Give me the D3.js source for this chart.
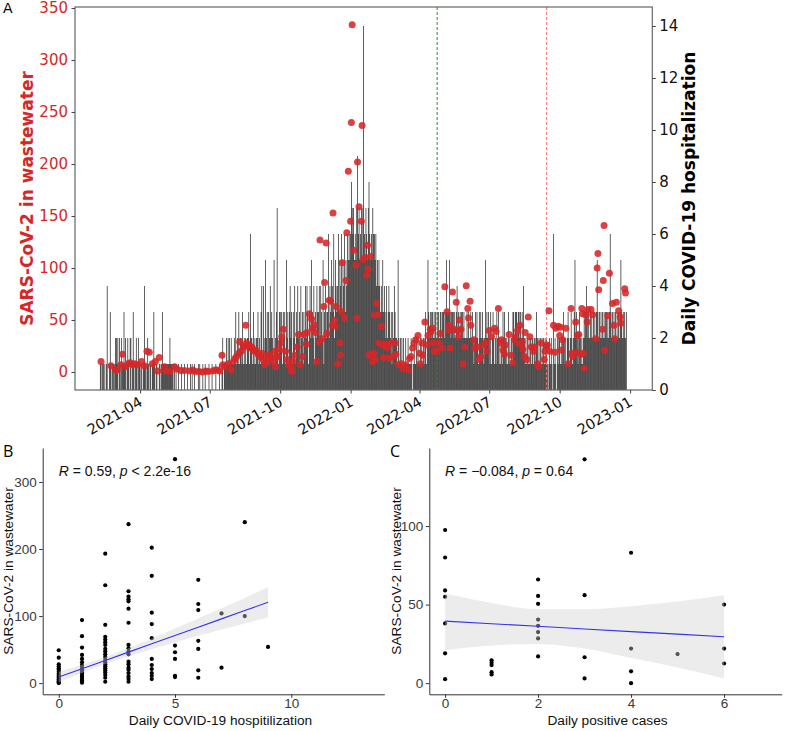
<!DOCTYPE html>
<html>
<head>
<meta charset="utf-8">
<script src="https://cdn.jsdelivr.net/npm/d3@7"></script>
<style>
  body { margin: 0; background: #fff; }
  svg { display: block; }
</style>
</head>
<body>
<svg id="chart" width="789" height="731"></svg>
<script>
// ---- Panel A data: daily hospitalizations, one character per day (hex digit)
const hospMonths = ["2021-02","2021-03","2021-04","2021-05","2021-06","2021-07","2021-08","2021-09",
  "2021-10","2021-11","2021-12","2022-01","2022-02","2022-03","2022-04","2022-05","2022-06",
  "2022-07","2022-08","2022-09","2022-10","2022-11","2022-12"];
const hospDigits = [
  "0000000110110101400131011012",
  "2120210211312012102201310121021",
  "101011410121011011310110011013",
  "1111111112111101010010001000100",
  "010001010010000101000100100001",
  "0001000010000100120111212121211",
  "1213121312213121212231622131212",
  "231213414125231324232151237213",
  "3231323152313423132413242314231",
  "324243134253241324334243251342",
  "3362435436254346354635463546565",
  "68767565796756757e6576578656576",
  "6564545434353432423432313243",
  "2215212121211211211121012112121",
  "121212123125323233232323232332",
  "3332353335323332323423232332322",
  "232322323212323213232321252323",
  "2131232121323121213232121312121",
  "3323332332323242121212121221212",
  "321212121212121012121061210212",
  "2121232121232123212352321232121",
  "232343232323232323532323232323",
  "3232363232323232323532323230000"
];

// SARS-CoV-2 in wastewater samples [date, value]
const wastewater = [
  ["2021-02-09",10],["2021-02-22",6],["2021-02-28",2],["2021-03-02",2],["2021-03-07",7],["2021-03-09",17],
  ["2021-03-12",5],["2021-03-16",8],["2021-03-19",9],["2021-03-22",7],["2021-03-25",8],["2021-03-29",7],
  ["2021-04-03",10],["2021-04-07",6],["2021-04-10",20],["2021-04-13",19],["2021-04-17",8],["2021-04-21",10],
  ["2021-04-24",1],["2021-04-26",14],["2021-05-03",5],["2021-05-05",1],["2021-05-10",0.5],["2021-05-16",5],
  ["2021-05-19",3],["2021-05-24",1.5],["2021-05-29",1.5],["2021-06-05",1],["2021-06-09",2],["2021-06-12",0.5],
  ["2021-06-17",0.5],["2021-06-22",0],["2021-06-26",1],["2021-06-29",0.5],["2021-07-05",1],["2021-07-08",2],
  ["2021-07-11",2],["2021-07-14",1],["2021-07-17",16],["2021-07-18",7],["2021-07-21",5],["2021-07-25",8],
  ["2021-07-29",2],["2021-08-01",10],["2021-08-03",13],["2021-08-05",15],["2021-08-08",18],["2021-08-09",29],
  ["2021-08-11",20],["2021-08-14",24],["2021-08-15",25],["2021-08-17",45],["2021-08-18",28],["2021-08-20",26],
  ["2021-08-22",23],["2021-08-24",24],["2021-08-25",24],["2021-08-27",21],["2021-08-29",20],["2021-08-30",21],
  ["2021-09-02",17],["2021-09-05",15],["2021-09-07",18],["2021-09-09",12],["2021-09-11",7],["2021-09-13",9],
  ["2021-09-15",16],["2021-09-17",16],["2021-09-19",13],["2021-09-22",10],["2021-09-24",20],["2021-09-25",5],
  ["2021-09-26",15],["2021-09-28",15],["2021-09-30",22],["2021-10-02",28],["2021-10-03",34],["2021-10-05",41],
  ["2021-10-08",20],["2021-10-10",12],["2021-10-12",7],["2021-10-15",4],["2021-10-16",0.5],["2021-10-18",10],
  ["2021-10-20",16],["2021-10-23",24],["2021-10-25",36],["2021-10-27",7],["2021-10-30",15],["2021-11-01",36],
  ["2021-11-04",27],["2021-11-05",38],["2021-11-08",56],["2021-11-11",51],["2021-11-12",42],["2021-11-15",45],
  ["2021-11-16",38],["2021-11-18",10],["2021-11-21",29],["2021-11-22",127],["2021-11-25",32],["2021-11-27",63],
  ["2021-11-28",86],["2021-11-30",124],["2021-12-01",37],["2021-12-04",69],["2021-12-06",68],["2021-12-08",45],
  ["2021-12-09",153],["2021-12-11",50],["2021-12-12",44],["2021-12-13",63],["2021-12-15",8],["2021-12-18",28],
  ["2021-12-19",16],["2021-12-20",58],["2021-12-21",105],["2021-12-24",52],["2021-12-26",88],["2021-12-27",134],
  ["2021-12-29",193],["2022-01-01",145],["2022-01-02",240],["2022-01-03",334],["2022-01-05",117],["2022-01-08",103],
  ["2022-01-09",52],["2022-01-10",202],["2022-01-12",159],["2022-01-15",145],["2022-01-16",237],["2022-01-17",108],
  ["2022-01-20",110],["2022-01-22",93],["2022-01-23",122],["2022-01-24",99],["2022-01-25",16],["2022-01-26",17],
  ["2022-01-27",111],["2022-01-30",10],["2022-01-31",18],["2022-02-01",55],["2022-02-02",12],["2022-02-04",66],
  ["2022-02-06",55],["2022-02-07",28],["2022-02-10",44],["2022-02-12",26],["2022-02-13",14],["2022-02-15",27],
  ["2022-02-16",26],["2022-02-18",23],["2022-02-21",13],["2022-02-23",28],["2022-02-25",15],["2022-02-28",28],
  ["2022-03-01",17],["2022-03-04",7],["2022-03-08",8],["2022-03-10",3.5],["2022-03-14",7],["2022-03-17",2],
  ["2022-03-19",13],["2022-03-21",15],["2022-03-23",23],["2022-03-25",28],["2022-03-27",31],["2022-03-30",35],
  ["2022-04-01",18],["2022-04-02",8],["2022-04-04",28],["2022-04-05",16],["2022-04-08",48],["2022-04-11",26],
  ["2022-04-12",35],["2022-04-15",41],["2022-04-16",39],["2022-04-18",42],["2022-04-19",28],["2022-04-20",20],
  ["2022-04-23",20],["2022-04-26",28],["2022-04-28",37],["2022-04-30",23],["2022-05-04",82],["2022-05-07",58],
  ["2022-05-09",45],["2022-05-10",40],["2022-05-11",23],["2022-05-14",77],["2022-05-16",41],["2022-05-19",67],
  ["2022-05-21",40],["2022-05-22",34],["2022-05-23",50],["2022-05-25",41],["2022-05-28",8],["2022-05-30",24],
  ["2022-06-01",83],["2022-06-03",61],["2022-06-04",52],["2022-06-06",68],["2022-06-07",45],["2022-06-11",31],
  ["2022-06-12",23],["2022-06-16",24],["2022-06-18",12],["2022-06-20",15],["2022-06-24",26],["2022-06-27",28],
  ["2022-06-28",20],["2022-07-01",40],["2022-07-04",34],["2022-07-08",42],["2022-07-10",39],["2022-07-13",61],
  ["2022-07-16",28],["2022-07-17",31],["2022-07-19",21],["2022-07-21",17],["2022-07-22",26],["2022-07-27",36],
  ["2022-07-30",16],["2022-08-01",9],["2022-08-03",31],["2022-08-04",34],["2022-08-07",40],["2022-08-09",27],
  ["2022-08-10",45],["2022-08-13",29],["2022-08-14",22],["2022-08-16",15],["2022-08-17",38],["2022-08-19",12],
  ["2022-08-21",53],["2022-08-23",34],["2022-08-25",24],["2022-08-28",20],["2022-08-29",24],["2022-09-02",8],
  ["2022-09-04",5],["2022-09-07",28],["2022-09-11",12],["2022-09-12",20],["2022-09-14",25],["2022-09-15",26],
  ["2022-09-17",59],["2022-09-18",20],["2022-09-23",45],["2022-09-25",19],["2022-09-26",42],["2022-09-29",44],
  ["2022-10-01",35],["2022-10-02",43],["2022-10-03",21],["2022-10-05",31],["2022-10-09",42],["2022-10-12",8],
  ["2022-10-16",61],["2022-10-17",18],["2022-10-18",15],["2022-10-22",48],["2022-10-23",19],["2022-10-24",35],
  ["2022-10-26",36],["2022-10-29",17],["2022-10-30",61],["2022-10-31",56],["2022-11-01",18],["2022-11-02",3.5],
  ["2022-11-04",55],["2022-11-06",48],["2022-11-07",60],["2022-11-11",60],["2022-11-13",55],["2022-11-17",32],
  ["2022-11-19",100],["2022-11-20",114],["2022-11-21",79],["2022-11-26",41],["2022-11-27",88],["2022-11-28",141],
  ["2022-11-29",21],["2022-12-03",54],["2022-12-05",95],["2022-12-09",66],["2022-12-11",45],["2022-12-12",32],
  ["2022-12-14",67],["2022-12-17",59],["2022-12-19",53],["2022-12-20",47],["2022-12-25",80],["2022-12-26",76]
];

const monthTicks = ["2021-04-01","2021-07-01","2021-10-01","2022-01-01","2022-04-01","2022-07-01","2022-10-01","2023-01-01"];
const leftTicks = [0, 50, 100, 150, 200, 250, 300, 350];
const rightTicks = [0, 2, 4, 6, 8, 10, 12, 14];
const greenLineDate = "2022-04-24";
const redLineDate = "2022-09-14";

// ---- Panel B: wastewater vs hospitalization
const bHosp = [0, 1, 2, 3, 4, 5, 6, 7, 8, 9];
const bWaste = [
  [49, 38, 28, 25, 22, 20, 17, 14, 12, 10, 8, 6, 5, 3, 2, 1, 0],
  [94, 70, 53, 42, 36, 31, 27, 24, 21, 19, 16, 14, 11, 9, 6, 4, 2, 0.5],
  [193, 146, 87, 69, 65, 61, 57, 51, 47, 43, 39, 35, 31, 28, 25, 22, 19, 16, 12, 8, 2],
  [237, 137, 129, 125, 122, 111, 90, 57, 52, 47, 43, 32, 28, 23, 20, 15, 10, 6, 2],
  [202, 160, 105, 88, 67, 36, 27, 21, 15, 11, 6],
  [334, 56, 46, 36, 11, 9],
  [154, 118, 109, 63, 51, 19, 8],
  [104, 23],
  [240, 100],
  [54]
];
const bFitX = [0, 1, 2, 3, 4, 5, 6, 7, 8, 9];
const bFit = [9, 21.4, 33.8, 46.2, 58.6, 71, 83.4, 95.8, 108.2, 120.6];
const bLow = [1, 15, 28.5, 40, 50.5, 60.5, 70.5, 80, 89, 98];
const bHigh = [17, 27.5, 39, 52, 66.5, 81.5, 96.5, 111.5, 127, 143];

// ---- Panel C: wastewater vs positive cases
const cCases = [0, 1, 2, 3, 4, 5, 6];
const cWaste = [
  [97.5, 80, 59, 55, 38, 19, 2.5],
  [14.5, 13, 11.5, 7, 5.5],
  [66, 55.5, 50.5, 40.5, 36.5, 32.5, 28.5, 17],
  [142.5, 56, 16.5, 3],
  [83, 22, 7.5, 0],
  [18.5],
  [50, 22, 12.5]
];
const cFitX = [0, 1, 2, 3, 4, 5, 6];
const cFit = [39.5, 37.8, 36.2, 34.5, 32.8, 31.2, 29.5];
const cLow = [21, 24, 25, 22, 16, 10, 3];
const cHigh = [57, 51, 47, 47, 49, 52, 56];

const svg = d3.select("#chart");
const parse = d3.utcParse("%Y-%m-%d");
const RED = "#d62728";
const fontA = "DejaVu Sans, sans-serif";
const fontB = "Liberation Sans, Arial, sans-serif";

// ================= Panel A =================
const xA = d3.scaleUtc().domain([parse("2021-01-06"), parse("2023-01-30")]).range([75, 652.3]);
const yL = d3.scaleLinear().domain([-17.3, 351]).range([390, 7]);
const yR = d3.scaleLinear().domain([0, 14.73]).range([390, 7]);

const daily = [];
hospMonths.forEach((m, i) => {
  const start = parse(m + "-01");
  hospDigits[i].split("").forEach((c, j) => {
    const v = parseInt(c, 16);
    if (v > 0) daily.push({ date: d3.utcDay.offset(start, j), value: v });
  });
});

const gA = svg.append("g");

gA.selectAll("rect.bar")
  .data(daily)
  .join("rect")
  .attr("class", "bar")
  .attr("x", d => xA(d.date) - 0.31)
  .attr("width", 0.62)
  .attr("y", d => yR(d.value))
  .attr("height", d => yR(0) - yR(d.value))
  .attr("fill", "#000");

gA.append("line")
  .attr("x1", xA(parse(greenLineDate))).attr("x2", xA(parse(greenLineDate)))
  .attr("y1", 7).attr("y2", 390)
  .attr("stroke", "#2e8b2e").attr("stroke-width", 1).attr("stroke-dasharray", "3,2");
gA.append("line")
  .attr("x1", xA(parse(redLineDate))).attr("x2", xA(parse(redLineDate)))
  .attr("y1", 7).attr("y2", 390)
  .attr("stroke", "#ff6f6f").attr("stroke-width", 1).attr("stroke-dasharray", "3,2");

gA.selectAll("circle.ww")
  .data(wastewater)
  .join("circle")
  .attr("class", "ww")
  .attr("cx", d => xA(parse(d[0])))
  .attr("cy", d => yL(d[1]))
  .attr("r", 3.5)
  .attr("fill", RED)
  .attr("opacity", 0.88);

// frame
gA.append("rect")
  .attr("x", 75).attr("y", 7).attr("width", 652.3 - 75).attr("height", 383)
  .attr("fill", "none").attr("stroke", "#666").attr("stroke-width", 1.2);

// left axis
gA.append("g")
  .attr("transform", "translate(75,0)")
  .call(d3.axisLeft(yL).tickValues(leftTicks).tickSize(3.5).tickPadding(3.5).tickSizeOuter(0))
  .call(g => g.select(".domain").remove())
  .call(g => g.selectAll("line").attr("stroke", "#444"))
  .call(g => g.selectAll("text").attr("fill", RED).style("font-family", fontA).style("font-size", "15px"));

// right axis
gA.append("g")
  .attr("transform", "translate(652.3,0)")
  .call(d3.axisRight(yR).tickValues(rightTicks).tickSize(3.5).tickPadding(3.5).tickSizeOuter(0))
  .call(g => g.select(".domain").remove())
  .call(g => g.selectAll("line").attr("stroke", "#444"))
  .call(g => g.selectAll("text").attr("fill", "#111").style("font-family", fontA).style("font-size", "15px"));

// bottom axis
gA.append("g")
  .attr("transform", "translate(0,390)")
  .call(d3.axisBottom(xA).tickValues(monthTicks.map(parse)).tickFormat(d3.utcFormat("%Y-%m")).tickSize(3.5).tickSizeOuter(0))
  .call(g => g.select(".domain").remove())
  .call(g => g.selectAll("line").attr("stroke", "#444"))
  .call(g => g.selectAll("text")
    .attr("x", 0).attr("y", 0).attr("dy", 0)
    .attr("transform", "translate(3,15) rotate(-30)")
    .style("text-anchor", "end")
    .attr("fill", "#111")
    .style("font-family", fontA).style("font-size", "14.5px"));

gA.append("text")
  .attr("transform", "translate(32.5,198.5) rotate(-90)")
  .attr("text-anchor", "middle")
  .attr("fill", RED)
  .style("font-family", fontA).style("font-size", "17px").style("font-weight", "bold")
  .text("SARS-CoV-2 in wastewater");

gA.append("text")
  .attr("transform", "translate(695,198.5) rotate(-90)")
  .attr("text-anchor", "middle")
  .attr("fill", "#000")
  .style("font-family", fontA).style("font-size", "17px").style("font-weight", "bold")
  .text("Daily COVID-19 hospitalization");

svg.append("text").attr("x", 3).attr("y", 13)
  .style("font-family", fontA).style("font-size", "14px").attr("fill", "#000").text("A");

// ================= Scatter panels =================
function scatterPanel(opt) {
  const g = svg.append("g");
  const x = d3.scaleLinear().domain(opt.xDomain).range(opt.xRange);
  const y = d3.scaleLinear().domain(opt.yDomain).range([694.3, 448]);

  const pts = [];
  opt.xs.forEach((xv, i) => opt.ys[i].forEach(yv => pts.push([xv, yv])));

  g.selectAll("circle")
    .data(pts)
    .join("circle")
    .attr("cx", d => x(d[0]))
    .attr("cy", d => y(d[1]))
    .attr("r", 2.1)
    .attr("fill", "#000");

  const band = opt.fitX.map((xv, i) => [xv, opt.low[i], opt.high[i]]);
  g.append("path")
    .datum(band)
    .attr("d", d3.area().x(d => x(d[0])).y0(d => y(d[1])).y1(d => y(d[2])).curve(d3.curveMonotoneX))
    .attr("fill", "#cfcfcf").attr("opacity", 0.4);

  g.append("path")
    .datum(opt.fitX.map((xv, i) => [xv, opt.fit[i]]))
    .attr("d", d3.line().x(d => x(d[0])).y(d => y(d[1])))
    .attr("fill", "none").attr("stroke", "#3333ee").attr("stroke-width", 1.1);

  g.append("g")
    .attr("transform", `translate(${opt.xRange[0]},0)`)
    .call(d3.axisLeft(y).tickValues(opt.yTicks).tickSize(3.5).tickPadding(2.5).tickSizeOuter(0))
    .call(a => a.select(".domain").attr("stroke", "#333"))
    .call(a => a.selectAll("line").attr("stroke", "#333"))
    .call(a => a.selectAll("text").attr("fill", "#3a3a3a").style("font-family", fontB).style("font-size", "13.5px"));

  g.append("g")
    .attr("transform", "translate(0,694.3)")
    .call(d3.axisBottom(x).tickValues(opt.xTicks).tickSize(3.5).tickPadding(1).tickSizeOuter(0))
    .call(a => a.select(".domain").attr("stroke", "#333"))
    .call(a => a.selectAll("line").attr("stroke", "#333"))
    .call(a => a.selectAll("text").attr("fill", "#3a3a3a").style("font-family", fontB).style("font-size", "13.5px"));

  g.append("text")
    .attr("x", (opt.xRange[0] + opt.xRange[1]) / 2 + opt.titleShift).attr("y", 724.5)
    .attr("text-anchor", "middle").attr("fill", "#111")
    .style("font-family", fontB).style("font-size", "13.7px")
    .text(opt.xTitle);

  g.append("text")
    .attr("transform", `translate(${opt.yTitleX},571) rotate(-90)`)
    .attr("text-anchor", "middle").attr("fill", "#111")
    .style("font-family", fontB).style("font-size", "13.7px")
    .text("SARS-CoV-2 in wastewater");

  const ann = g.append("text")
    .attr("x", x(0)).attr("y", 476)
    .attr("fill", "#111")
    .style("font-family", fontB).style("font-size", "14px");
  opt.annotation.forEach(part => {
    ann.append("tspan").style("font-style", part[1] ? "italic" : "normal").text(part[0]);
  });

  svg.append("text").attr("x", opt.letterX).attr("y", 457)
    .style("font-family", "Open Sans, sans-serif").style("font-size", "16px").attr("fill", "#000")
    .text(opt.letter);
}

scatterPanel({
  xs: bHosp, ys: bWaste, fitX: bFitX, fit: bFit, low: bLow, high: bHigh,
  xDomain: [-0.69, 14.0], xRange: [42.7, 384.3], yDomain: [-16.7, 350.7],
  xTicks: [0, 5, 10], yTicks: [0, 100, 200, 300],
  xTitle: "Daily COVID-19 hospitilization", titleShift: 7, yTitleX: 12.5,
  annotation: [["R", true], [" = 0.59, ", false], ["p", true], [" < 2.2e-16", false]],
  letter: "B", letterX: 3
});

scatterPanel({
  xs: cCases, ys: cWaste, fitX: cFitX, fit: cFit, low: cLow, high: cHigh,
  xDomain: [-0.34, 7.24], xRange: [429.3, 781.7], yDomain: [-7.1, 149.7],
  xTicks: [0, 2, 4, 6], yTicks: [0, 50, 100],
  xTitle: "Daily positive cases", titleShift: 2, yTitleX: 400.5,
  annotation: [["R", true], [" = \u22120.084, ", false], ["p", true], [" = 0.64", false]],
  letter: "C", letterX: 390
});
</script>
</body>
</html>
